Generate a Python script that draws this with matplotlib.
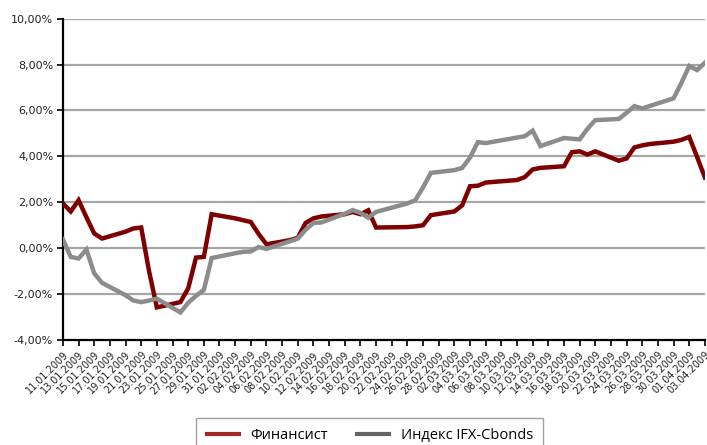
import matplotlib
matplotlib.use("Agg")
import matplotlib.pyplot as plt
import matplotlib.dates as mdates
from matplotlib.ticker import FuncFormatter, MultipleLocator
from matplotlib.lines import Line2D
import datetime as dt

dates = [
    "2009-01-11", "2009-01-12", "2009-01-13", "2009-01-14", "2009-01-15", "2009-01-16",
    "2009-01-19", "2009-01-20", "2009-01-21", "2009-01-22", "2009-01-23",
    "2009-01-26", "2009-01-27", "2009-01-28", "2009-01-29", "2009-01-30",
    "2009-02-02", "2009-02-03", "2009-02-04", "2009-02-05", "2009-02-06",
    "2009-02-09", "2009-02-10", "2009-02-11", "2009-02-12", "2009-02-13",
    "2009-02-16", "2009-02-17", "2009-02-18", "2009-02-19", "2009-02-20",
    "2009-02-24", "2009-02-25", "2009-02-26", "2009-02-27",
    "2009-03-02", "2009-03-03", "2009-03-04", "2009-03-05", "2009-03-06",
    "2009-03-10", "2009-03-11", "2009-03-12", "2009-03-13",
    "2009-03-16", "2009-03-17", "2009-03-18", "2009-03-19", "2009-03-20",
    "2009-03-23", "2009-03-24", "2009-03-25", "2009-03-26", "2009-03-27",
    "2009-03-30", "2009-03-31", "2009-04-01", "2009-04-02", "2009-04-03",
]

finansist = [
    1.95, 1.60, 2.09, 1.35, 0.64, 0.42,
    0.72, 0.86, 0.90, -1.00, -2.58,
    -2.35, -1.75, -0.41, -0.38, 1.48,
    1.30, 1.22, 1.14, 0.62, 0.17,
    0.35, 0.45, 1.10, 1.30, 1.38,
    1.48, 1.58, 1.48, 1.65, 0.90,
    0.92, 0.95, 1.00, 1.44,
    1.60, 1.87, 2.70, 2.72, 2.86,
    2.97, 3.10, 3.43, 3.50,
    3.57, 4.18, 4.22, 4.08, 4.22,
    3.81, 3.91, 4.39, 4.48, 4.54,
    4.64, 4.72, 4.85, 3.98, 3.08,
]

ifx_cbonds = [
    0.38, -0.38, -0.45, -0.06, -1.10, -1.51,
    -2.05, -2.28, -2.35, -2.28, -2.20,
    -2.80, -2.38, -2.08, -1.82, -0.43,
    -0.22, -0.16, -0.14, 0.05, -0.03,
    0.30, 0.42, 0.80, 1.10, 1.12,
    1.50, 1.66, 1.54, 1.33, 1.58,
    1.95, 2.09, 2.65, 3.28,
    3.40, 3.50, 3.95, 4.62, 4.58,
    4.82, 4.88, 5.12, 4.45,
    4.80, 4.77, 4.74, 5.20, 5.58,
    5.63, 5.90, 6.19, 6.09, 6.20,
    6.53, 7.20, 7.94, 7.76, 8.08,
]

series_names = ["Финансист", "Индекс IFX-Cbonds"]

x = [dt.datetime.strptime(d, "%Y-%m-%d") for d in dates]

fig = plt.figure(figsize=(7.07, 4.45), dpi=100)
ax = fig.add_axes([0.089, 0.236, 0.908, 0.722])

ax.plot(x, finansist, color="#7f0000", lw=3.2, solid_joinstyle="miter", zorder=3)
ax.plot(x, ifx_cbonds, color="#8c8c8c", lw=3.2, solid_joinstyle="miter", zorder=4)

ax.set_ylim(-4, 10)
ax.yaxis.set_major_locator(MultipleLocator(2))
ax.yaxis.set_major_formatter(FuncFormatter(lambda v, p: f"{v:.2f}%".replace(".", ",")))
for yv in range(-2, 11, 2):
    ax.axhline(yv, color="#a6a6a6", lw=1.6, zorder=1)

x0 = dt.datetime(2009, 1, 11)
x1 = dt.datetime(2009, 4, 3)
ax.set_xlim(x0, x1)
ticks = [x0 + dt.timedelta(days=2 * i) for i in range(42)]
ax.set_xticks(ticks)
ax.xaxis.set_major_formatter(mdates.DateFormatter("%d.%m.%Y"))
plt.setp(ax.get_xticklabels(), rotation=45, ha="right", rotation_mode="anchor",
         fontsize=7.0, color="#222222")
plt.setp(ax.get_yticklabels(), fontsize=8, color="#222222")

for s in ["top", "right"]:
    ax.spines[s].set_visible(False)
for s in ["left", "bottom"]:
    ax.spines[s].set_linewidth(1.6)
    ax.spines[s].set_color("black")
ax.tick_params(axis="both", direction="out", length=4, width=1.2, color="black")
ax.tick_params(axis="x", pad=3)
ax.tick_params(axis="y", pad=3)

handles = [Line2D([0], [0], color="#9e2a25", lw=3),
           Line2D([0], [0], color="#646464", lw=3)]
leg = fig.legend(handles, series_names, loc="center", bbox_to_anchor=(0.523, 0.022),
                 ncol=2, frameon=True, fancybox=False, edgecolor="#8a8a8a",
                 prop={"family": "Open Sans", "size": 10.5}, handlelength=2.2,
                 columnspacing=2.0, borderpad=0.7, handletextpad=0.8)
leg.get_frame().set_linewidth(1.0)

fig.savefig("out.png", dpi=100)
